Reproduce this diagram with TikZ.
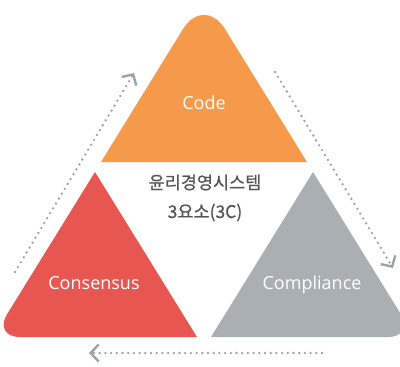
\documentclass[tikz,border=0pt]{standalone}
\usepackage{fontspec}
\setmainfont{Open Sans}
\newfontfamily\krfont[FakeBold=0.6]{Noto Sans CJK KR}
\usetikzlibrary{arrows.meta}
\definecolor{codeorange}{HTML}{F5994A}
\definecolor{consred}{HTML}{E85652}
\definecolor{compgray}{HTML}{A9AFB2}
\definecolor{arrowgray}{HTML}{9BA2A7}
\definecolor{centertext}{HTML}{555555}
\tikzset{
  label3c/.style={text=white, font=\fontsize{18}{20}\selectfont, anchor=base, inner sep=0pt},
  flowarrow/.style={arrowgray, line width=2.6pt, line cap=round, dash pattern=on 0pt off 5.7pt,
    -{Straight Barb[length=8pt,width=17pt,line width=2.4pt]}},
}
\begin{document}
\begin{tikzpicture}[x=1pt,y=-1pt]
\useasboundingbox (0,0) rectangle (400,367);
% triangles
\fill[codeorange] (307,162) -- (101,162) [rounded corners=40] -- (204,-5) [sharp corners] -- cycle;
\fill[consred] (197,337) -- (95,172) [rounded corners=27] -- (-7,337) [sharp corners] -- cycle;
\fill[compgray] (211,337) -- (313,172) [rounded corners=27] -- (415,337) [sharp corners] -- cycle;
% labels
\node[label3c] (code) at (204,109) {Code};
\node[label3c] (cons) at (94,289) {Consensus};
\node[label3c] (comp) at (312,289) {Compliance};
\node[text=centertext, font=\krfont\fontsize{17.5}{29}\selectfont, align=center, anchor=base, inner sep=0pt] (center) at (205,218) {윤리경영시스템\\3요소(3C)};
% arrows
\coordinate (l1) at (15,272);
\coordinate (l2) at (134,73);
\coordinate (r1) at (275,72);
\coordinate (r2) at (393,268);
\coordinate (b1) at (322,353);
\coordinate (b2) at (89,353);
\draw[flowarrow] (l1) -- (l2);
\draw[flowarrow] (r1) -- (r2);
\draw[flowarrow] (b1) -- (b2);
\end{tikzpicture}
\end{document}
